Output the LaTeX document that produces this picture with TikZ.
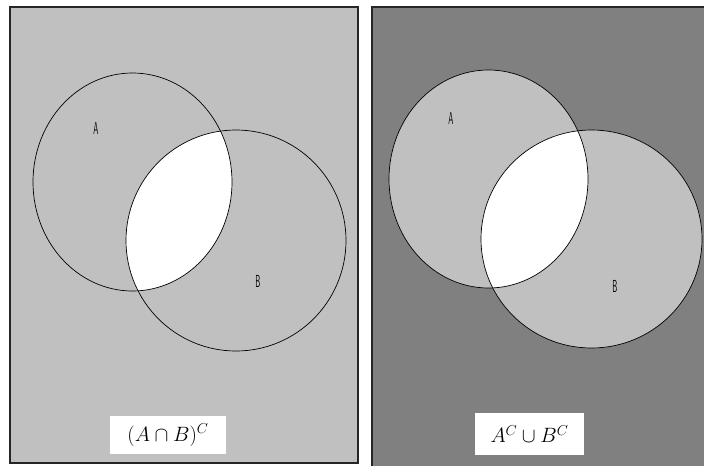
\documentclass[tikz,border=0pt]{standalone}
\definecolor{lightg}{HTML}{C0C0C0}
\definecolor{darkg}{HTML}{808080}
\tikzset{
  panelframe/.style={draw=black!85, line width=1.3pt},
  setline/.style={draw=black, line width=0.7pt},
  setletter/.style={font=\sffamily\large, xscale=0.65, yscale=1.45, inner sep=0pt, text=black},
  labelbox/.style={fill=white, draw=none, inner sep=0pt, font=\fontsize{22}{26}\selectfont}
}
\begin{document}
\begin{tikzpicture}[x=1pt,y=-1pt]
\useasboundingbox (0,0) rectangle (704,466);
\fill[white] (0,0) rectangle (704,466);
% ---------- left panel ----------
\fill[lightg] (10,7) rectangle (358,463);
\begin{scope}
  \clip (132.5,182) ellipse [x radius=99.5, y radius=109];
  \fill[white] (236,240.5) ellipse [x radius=110, y radius=110.5];
\end{scope}
\draw[setline] (132.5,182) ellipse [x radius=99.5, y radius=109];
\draw[setline] (236,240.5) ellipse [x radius=110, y radius=110.5];
\draw[panelframe] (10,7) rectangle (358,463);
\node[setletter] (la) at (96,128) {A};
\node[setletter] (lb) at (258,281) {B};
\node[labelbox, minimum width=116pt, minimum height=38pt] (lbox) at (168,435) {$(A\cap B)^C$};
% ---------- right panel ----------
\fill[darkg] (372,7) rectangle (704,466);
\fill[lightg] (488.5,179) ellipse [x radius=99.5, y radius=109];
\fill[lightg] (591.5,239) ellipse [x radius=110.5, y radius=109];
\begin{scope}
  \clip (488.5,179) ellipse [x radius=99.5, y radius=109];
  \fill[white] (591.5,239) ellipse [x radius=110.5, y radius=109];
\end{scope}
\draw[setline] (488.5,179) ellipse [x radius=99.5, y radius=109];
\draw[setline] (591.5,239) ellipse [x radius=110.5, y radius=109];
\draw[panelframe] (704.5,7) -- (372,7) -- (372,466);
\node[setletter] (ra) at (451,118) {A};
\node[setletter] (rb) at (615,286) {B};
\node[labelbox, minimum width=109pt, minimum height=42pt] (rbox) at (529.5,434) {$A^C\cup B^C$};
\end{tikzpicture}
\end{document}
